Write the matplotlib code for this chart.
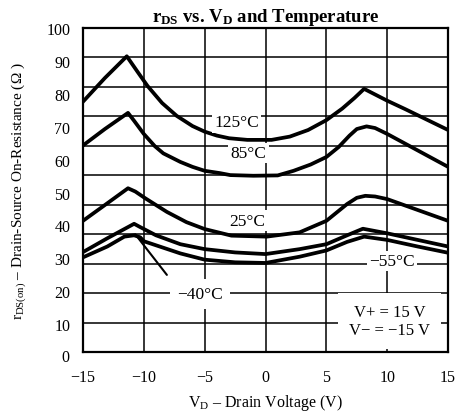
import matplotlib
matplotlib.use("Agg")
import matplotlib.pyplot as plt
import numpy as np

plt.rcParams['font.family'] = ['Liberation Serif', 'DejaVu Serif']
plt.rcParams['mathtext.fontset'] = 'custom'
plt.rcParams['mathtext.rm'] = 'Liberation Serif'
plt.rcParams['mathtext.it'] = 'Liberation Serif:italic'
plt.rcParams['mathtext.bf'] = 'Liberation Serif:bold'

# Data (V_D in volts, r_DS(on) in ohms)
v_125 = [-15, -13.2, -11.4, -10.5, -9.7, -8.5, -7.3, -6.0, -5.0, -4.0, -3.0, -1.5,
         0.5, 2.0, 3.5, 5.0, 6.3, 7.3, 8.1, 10.0, 11.5, 15]
r_125 = [77.6, 84.8, 91.4, 86.6, 82.4, 77.2, 73.3, 70.2, 68.5, 67.3, 66.5, 66.0,
         66.0, 67.0, 69.0, 72.0, 75.5, 78.7, 81.5, 77.9, 75.3, 69.0]

v_85 = [-15, -13.2, -11.3, -10.8, -10.0, -9.1, -8.4, -7.0, -6.0, -5.0, -3.75, -2.9,
        -1.0, 1.0, 2.3, 3.7, 5.0, 6.0, 6.9, 7.5, 8.3, 9.0, 10.0, 12.5, 15]
r_85 = [64.3, 69.3, 74.2, 71.8, 67.8, 64.1, 61.9, 59.3, 57.8, 56.6, 55.9, 55.3,
        55.1, 55.2, 56.6, 58.5, 60.8, 63.8, 67.3, 69.3, 70.1, 69.6, 67.8, 62.8, 57.8]

v_25 = [-15, -13.2, -11.3, -10.7, -9.9, -8.1, -6.5, -5.0, -2.8, 0.1, 2.8, 5.0,
        6.7, 7.5, 8.2, 9.0, 10.0, 12.5, 15]
r_25 = [41.4, 46.2, 51.3, 50.3, 48.3, 44.1, 41.0, 38.9, 36.9, 36.6, 37.9, 41.4,
        46.5, 48.4, 49.0, 48.8, 48.0, 44.7, 41.4]

v_m55 = [-15, -13.0, -10.8, -10.3, -9.0, -7.0, -5.0, -2.5, 0.0, 2.8, 5.0, 6.7,
         8.0, 10.0, 12.5, 15]
r_m55 = [31.9, 36.1, 40.5, 39.5, 37.0, 34.3, 32.8, 31.8, 31.3, 32.8, 34.3, 37.0,
         39.0, 37.6, 35.6, 33.6]

v_m40 = [-15, -13.0, -11.6, -10.8, -10.3, -10.0, -7.0, -5.0, -2.5, 0.0, 2.8, 5.0,
         6.7, 8.1, 10.0, 12.5, 15]
r_m40 = [30.3, 33.6, 36.6, 37.0, 36.4, 35.2, 31.5, 29.6, 28.8, 28.6, 30.5, 32.4,
         35.0, 36.6, 35.6, 33.6, 31.7]

x_ticks = [-15, -10, -5, 0, 5, 10, 15]
y_ticks = [10, 20, 30, 40, 50, 60, 70, 80, 90, 100]

fig = plt.figure(figsize=(4.61, 4.14), dpi=100)
ax = fig.add_axes([0.180, 0.147, 0.792, 0.783])

# the scanned grid has 11 rows while the labels are spaced for 10
ax.set_xlim(-15, 15)
ax.set_ylim(1.5, 100)
ax.set_xticks(x_ticks)
ax.set_xticklabels([str(t).replace('-', '\u2212') for t in x_ticks])
ax.set_yticks(y_ticks)
ax.set_yticks(np.linspace(1.5, 100, 12)[1:-1], minor=True)
ax.tick_params(which='both', length=0, labelsize=11.5)
ax.tick_params(axis='x', pad=12)
ax.tick_params(axis='y', pad=9)
ax.text(-0.036, 0, '0', transform=ax.get_yaxis_transform(), ha='right',
        va='center', fontsize=11.5, clip_on=False)
ax.grid(axis='x', which='major', color='black', lw=1.1)
ax.grid(axis='y', which='minor', color='black', lw=1.1)
for s in ax.spines.values():
    s.set_linewidth(1.6)

for v, r in [(v_125, r_125), (v_85, r_85), (v_25, r_25), (v_m55, r_m55), (v_m40, r_m40)]:
    ax.plot(v, r, color='black', lw=2.7, solid_joinstyle='round', zorder=3)

box = dict(facecolor='white', edgecolor='none', pad=1.5)
ax.text(-2.35, 71.3, '125°C', ha='center', va='center', fontsize=12.5, bbox=box, zorder=4)
ax.text(-1.4, 61.9, '85°C', ha='center', va='center', fontsize=12.5, bbox=box, zorder=4)
ax.text(-1.5, 41.5, '25°C', ha='center', va='center', fontsize=12.5, bbox=box, zorder=4)
ax.text(10.4, 29.2, '\u221255°C', ha='center', va='center', fontsize=12.5, bbox=box, zorder=4)
ax.annotate('\u221240°C', xy=(-10.7, 37.3), xytext=(-5.4, 19.1), ha='center',
            va='center', fontsize=12.5, bbox=dict(facecolor='white', edgecolor='none', pad=5),
            arrowprops=dict(arrowstyle='-', lw=1.5, color='black', relpos=(0, 0.9),
                            shrinkA=4, shrinkB=0), zorder=4)
ax.text(10.2, 11.0, 'V+ = 15 V\nV\u2212 = \u221215 V', ha='center', va='center',
        fontsize=12, linespacing=1.15,
        bbox=dict(facecolor='white', edgecolor='none', pad=8), zorder=4)

ax.set_title(r'$\mathbf{r_{DS}}$ vs. $\mathbf{V_D}$ and Temperature', fontsize=13.5,
             fontweight='bold', pad=5)
ax.set_xlabel('V$_{\\rm D}$ \u2013 Drain Voltage (V)', fontsize=11.5)
ax.xaxis.set_label_coords(0.5, -0.122)
ax.set_ylabel('r$_{\\rm DS(on)}$ \u2013 Drain-Source On-Resistance (\u03a9 )', fontsize=11)
ax.yaxis.set_label_coords(-0.15, 0.5)

fig.savefig('out.png', dpi=100)
